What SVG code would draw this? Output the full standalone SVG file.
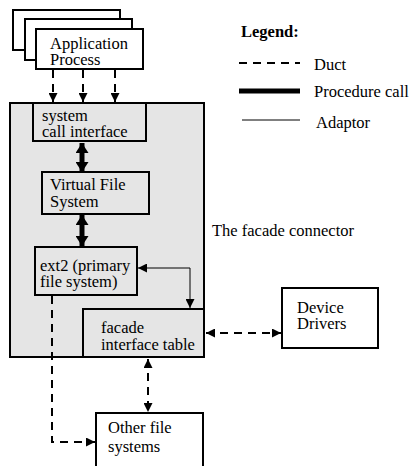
<svg xmlns="http://www.w3.org/2000/svg" width="414" height="466" viewBox="0 0 414 466">
<defs>
<style>
text{font-family:"Liberation Serif","Times New Roman",serif;font-size:16.5px;fill:#000}
.box{fill:#fff;stroke:#000;stroke-width:2}
.gbox{fill:#e5e5e5;stroke:#000;stroke-width:2}
.duct{fill:none;stroke:#000;stroke-width:2;stroke-dasharray:8,6}
.proc{fill:none;stroke:#000;stroke-width:5}
.adapt{fill:none;stroke:#000;stroke-width:1}
</style>
<marker id="ahs" viewBox="0 0 10 10" refX="10" refY="5" markerWidth="9" markerHeight="9" markerUnits="userSpaceOnUse" orient="auto-start-reverse"><path d="M0,0 L10,5 L0,10 z" fill="#000"/></marker>
<marker id="ahp" viewBox="0 0 10 13" refX="10" refY="6.5" markerWidth="10" markerHeight="13" markerUnits="userSpaceOnUse" orient="auto-start-reverse"><path d="M0,0 L10,6.5 L0,13 z" fill="#000"/></marker>
</defs>
<g id="app-process">
<rect class="box" x="13" y="10" width="107" height="40" stroke-width="1.3"/>
<rect class="box" x="25" y="19" width="107" height="41" stroke-width="1.3"/>
<rect class="box" x="36" y="29" width="107" height="40" stroke-width="1.3"/>
<text x="50" y="49">Application</text>
<text x="50" y="65">Process</text>
</g>
<g id="facade-connector">
<rect class="gbox" x="10" y="103" width="194" height="254"/>
<text x="212" y="236">The facade connector</text>
</g>
<g id="system-call-interface">
<rect class="gbox" x="33" y="103" width="113" height="38"/>
<text x="42" y="121">system</text>
<text x="42" y="137">call interface</text>
</g>
<g id="vfs">
<rect class="gbox" x="42" y="172" width="107" height="42"/>
<text x="50" y="190">Virtual File</text>
<text x="50" y="207">System</text>
</g>
<g id="ext2">
<rect class="gbox" x="35" y="247" width="102" height="48"/>
<text x="40" y="271">ext2 (primary</text>
<text x="40" y="287">file system)</text>
</g>
<g id="facade-table">
<rect class="gbox" x="83" y="309" width="121" height="48"/>
<text x="101" y="333">facade</text>
<text x="101" y="350">interface table</text>
</g>
<g id="device-drivers">
<rect class="box" x="282" y="288" width="96" height="60"/>
<text x="297" y="313">Device</text>
<text x="297" y="329">Drivers</text>
</g>
<g id="other-fs">
<rect class="box" x="96" y="413" width="107" height="70"/>
<text x="108" y="433">Other file</text>
<text x="108" y="452">systems</text>
</g>
<g id="connectors">
<line class="duct" x1="53" y1="70" x2="53" y2="102" marker-end="url(#ahs)"/>
<line class="duct" x1="83" y1="70" x2="83" y2="102" marker-end="url(#ahs)"/>
<line class="duct" x1="115" y1="70" x2="115" y2="102" marker-end="url(#ahs)"/>
<line class="proc" x1="82" y1="143" x2="82" y2="172" marker-start="url(#ahp)" marker-end="url(#ahp)"/>
<line class="proc" x1="82" y1="215" x2="82" y2="246" marker-start="url(#ahp)" marker-end="url(#ahp)"/>
<polyline class="adapt" points="138,268 190,268 190,308" marker-start="url(#ahs)" marker-end="url(#ahs)"/>
<line class="duct" x1="206" y1="333" x2="281" y2="333" marker-start="url(#ahs)" marker-end="url(#ahs)"/>
<line class="duct" x1="148" y1="359" x2="148" y2="412" marker-start="url(#ahs)" marker-end="url(#ahs)"/>
<polyline class="duct" points="52,296 52,442 95,442" marker-end="url(#ahs)"/>
</g>
<g id="legend">
<text x="241" y="37" font-weight="bold">Legend:</text>
<line class="duct" x1="239" y1="63" x2="300" y2="63"/>
<text x="314" y="70">Duct</text>
<line x1="239" y1="91" x2="300" y2="91" stroke="#000" stroke-width="5"/>
<text x="314" y="97">Procedure call</text>
<line class="adapt" x1="242" y1="120" x2="300" y2="120"/>
<text x="316" y="128">Adaptor</text>
</g>
</svg>
